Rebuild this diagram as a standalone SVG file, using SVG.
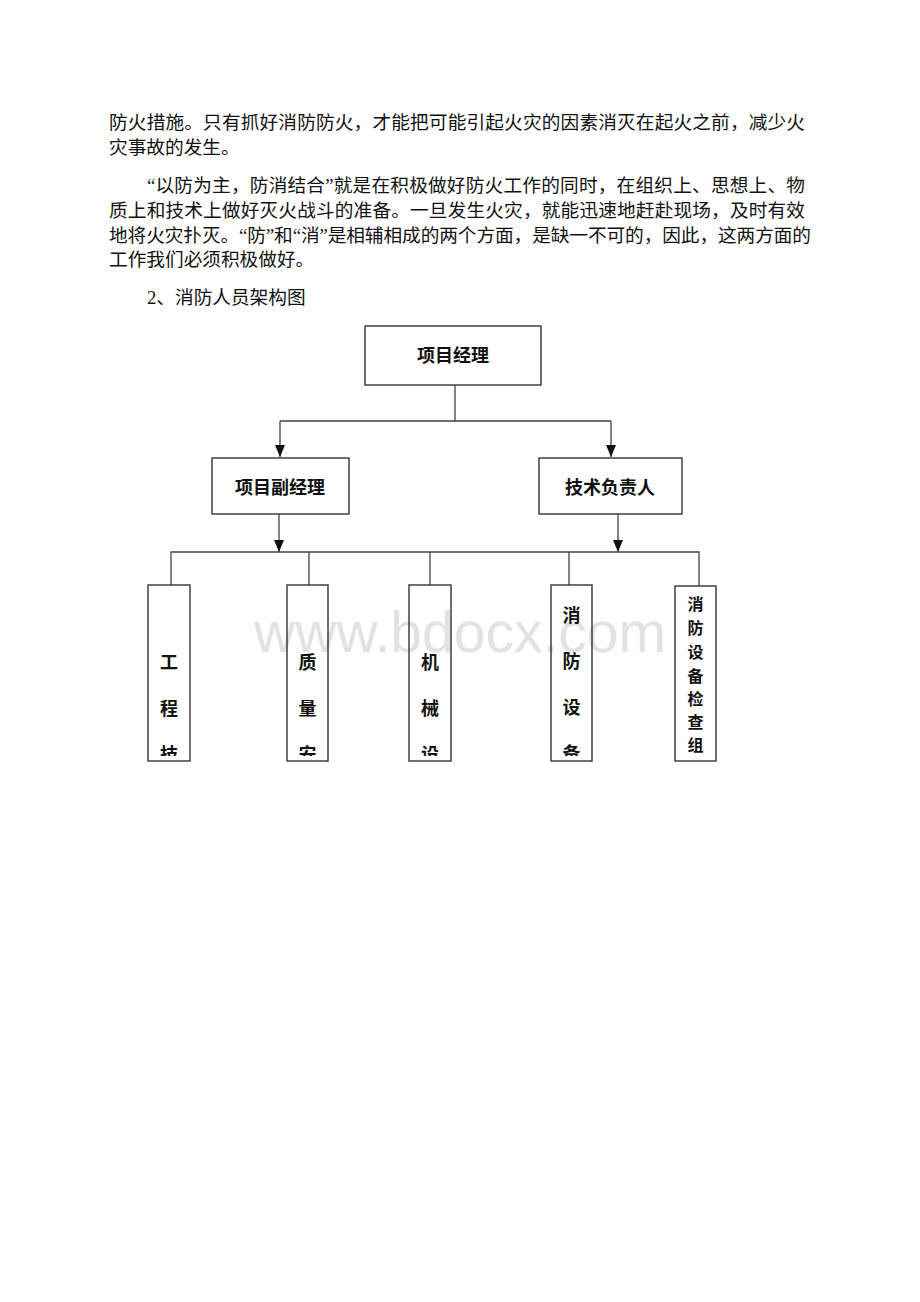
<svg xmlns="http://www.w3.org/2000/svg" width="920" height="1302" viewBox="0 0 920 1302">
<style>
.p{font-family:"Liberation Serif","Noto Sans CJK SC",serif;font-size:18.67px;fill:#111}
.lb{font-family:"Noto Sans CJK SC","Noto Sans",sans-serif;font-size:18px;font-weight:bold;fill:#111;text-anchor:middle}
.sm{font-size:16px}
.bx{fill:none;stroke:#333;stroke-width:1.4}
.ln{fill:none;stroke:#444;stroke-width:1.3}
.wm{font-family:"Liberation Sans",Arial,sans-serif;font-size:57px;fill:#e2e2e2;text-anchor:middle}
</style>
<defs>
<marker id="ah" markerWidth="12" markerHeight="10" refX="12" refY="5" orient="auto" markerUnits="userSpaceOnUse" viewBox="0 0 12 10">
<path d="M0,0 L12,5 L0,10 Z" fill="#111"/>
</marker>
<clipPath id="cut"><rect x="0" y="0" width="920" height="756"/></clipPath>
</defs>
<rect width="920" height="1302" fill="#fff"/>
<g id="text">
<text class="p" x="109" y="129" textLength="696" lengthAdjust="spacing">防火措施。只有抓好消防防火，才能把可能引起火灾的因素消灭在起火之前，减少火</text>
<text class="p" x="109" y="154">灾事故的发生。</text>
<text class="p" x="147" y="192" textLength="658" lengthAdjust="spacing">“以防为主，防消结合”就是在积极做好防火工作的同时，在组织上、思想上、物</text>
<text class="p" x="109" y="217" textLength="696" lengthAdjust="spacing">质上和技术上做好灭火战斗的准备。一旦发生火灾，就能迅速地赶赴现场，及时有效</text>
<text class="p" x="109" y="242" textLength="702" lengthAdjust="spacing">地将火灾扑灭。“防”和“消”是相辅相成的两个方面，是缺一不可的，因此，这两方面的</text>
<text class="p" x="109" y="266">工作我们必须积极做好。</text>
<text class="p" x="147" y="304">2、消防人员架构图</text>
</g>
<text id="watermark" class="wm" x="460" y="652">www.bdocx.com</text>
<g id="connectors">
<path class="ln" d="M455,385 V421 M280,421 H611"/>
<path class="ln" d="M280,421 V457" marker-end="url(#ah)"/>
<path class="ln" d="M611,421 V457" marker-end="url(#ah)"/>
<path class="ln" d="M279,514 V552" marker-end="url(#ah)"/>
<path class="ln" d="M618,514 V552" marker-end="url(#ah)"/>
<path class="ln" d="M171,585 V552 H699 V586 M309,552 V585 M430,552 V585 M569,552 V585"/>
</g>
<g id="n-manager"><rect class="bx" x="365" y="326" width="176" height="59"/><text class="lb" x="453" y="362">项目经理</text></g>
<g id="n-deputy"><rect class="bx" x="212" y="458" width="137" height="56"/><text class="lb" x="280" y="494">项目副经理</text></g>
<g id="n-tech"><rect class="bx" x="539" y="458" width="143" height="56"/><text class="lb" x="610" y="494">技术负责人</text></g>
<g id="n-eng"><rect class="bx" x="148" y="585" width="42" height="176"/>
<g clip-path="url(#cut)"><text class="lb" x="169" y="669">工</text><text class="lb" x="169" y="715">程</text><text class="lb" x="169" y="761">技</text></g></g>
<g id="n-quality"><rect class="bx" x="287" y="585" width="41" height="176"/>
<g clip-path="url(#cut)"><text class="lb" x="307.5" y="669">质</text><text class="lb" x="307.5" y="715">量</text><text class="lb" x="307.5" y="761">安</text></g></g>
<g id="n-mech"><rect class="bx" x="409" y="585" width="42" height="176"/>
<g clip-path="url(#cut)"><text class="lb" x="430" y="669">机</text><text class="lb" x="430" y="715">械</text><text class="lb" x="430" y="761">设</text></g></g>
<g id="n-fire"><rect class="bx" x="551" y="585" width="41" height="176"/>
<g clip-path="url(#cut)"><text class="lb" x="571.5" y="622">消</text><text class="lb" x="571.5" y="668">防</text><text class="lb" x="571.5" y="714">设</text><text class="lb" x="571.5" y="760">备</text></g></g>
<g id="n-check"><rect class="bx" x="675" y="586" width="41" height="175"/>
<text class="lb sm" x="695.5" y="610">消</text><text class="lb sm" x="695.5" y="634">防</text><text class="lb sm" x="695.5" y="658">设</text><text class="lb sm" x="695.5" y="682">备</text><text class="lb sm" x="695.5" y="705">检</text><text class="lb sm" x="695.5" y="728">查</text><text class="lb sm" x="695.5" y="751">组</text></g>
</svg>
